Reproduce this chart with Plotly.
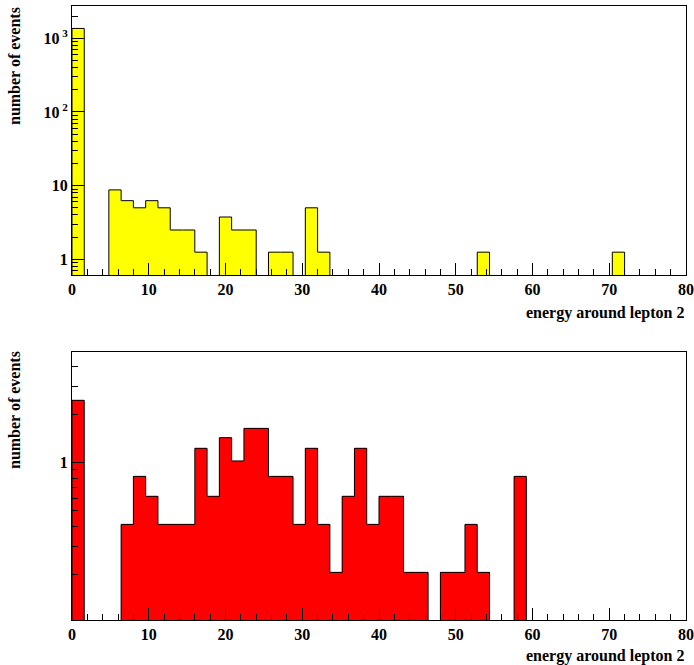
import plotly.graph_objects as go
from plotly.subplots import make_subplots
import math

# ---- data ----
n_bins = 50
x_min, x_max = 0.0, 80.0
bin_width = (x_max - x_min) / n_bins

top_counts = {0: 1360, 3: 8.75, 4: 6.25, 5: 5, 6: 6.25, 7: 5, 8: 2.5, 9: 2.5,
              10: 1.25, 12: 3.75, 13: 2.5, 14: 2.5, 16: 1.25, 17: 1.25,
              19: 5, 20: 1.25, 33: 1.25, 44: 1.25}
bottom_counts = {0: 2.46, 4: 0.41, 5: 0.82, 6: 0.615, 7: 0.41, 8: 0.41, 9: 0.41,
                 10: 1.23, 11: 0.615, 12: 1.435, 13: 1.025, 14: 1.64, 15: 1.64,
                 16: 0.82, 17: 0.82, 18: 0.41, 19: 1.23, 20: 0.41, 21: 0.205,
                 22: 0.615, 23: 1.23, 24: 0.41, 25: 0.615, 26: 0.615, 27: 0.205,
                 28: 0.205, 30: 0.205, 31: 0.205, 32: 0.41, 33: 0.205, 36: 0.82}

top_values = [top_counts.get(i, 0) for i in range(n_bins)]
bottom_values = [bottom_counts.get(i, 0) for i in range(n_bins)]

x_ticks = list(range(0, 81, 10))
top_ytick_vals = [1, 10, 100, 1000]
top_ytick_text = ["1", "10", "10<sup> 2</sup>", "10<sup> 3</sup>"]
bottom_ytick_vals = [1]
bottom_ytick_text = ["1"]

top_yrange = [-0.213, 3.438]
bottom_yrange = [-0.987, 0.694]

x_title = "energy around lepton 2"
y_title = "number of events"

# ---- helpers ----
edges = [x_min + i * bin_width for i in range(n_bins + 1)]
centers = [x_min + (i + 0.5) * bin_width for i in range(n_bins)]


def step_outline(values, floor):
    xs = [edges[0]] + edges[:-1] + [edges[-1]]
    ys = [floor] + [v if v > 0 else floor for v in values] + [floor]
    return xs, ys


def minor_log_vals(lo, hi):
    vals = []
    for k in range(int(math.floor(lo)) - 1, int(math.ceil(hi)) + 1):
        for d in range(2, 10):
            v = d * 10 ** k
            if lo <= math.log10(v) <= hi:
                vals.append(v)
    return vals


H = 665
fig = make_subplots(rows=2, cols=1)

font_family = "Liberation Serif, Times New Roman, serif"
tick_font = dict(family=font_family, size=16, color="black", weight="bold")

panels = [
    (1, top_values, "#ffff00", top_yrange, top_ytick_vals, top_ytick_text),
    (2, bottom_values, "#ff0000", bottom_yrange, bottom_ytick_vals, bottom_ytick_text),
]

for row, vals, color, yr, tv, tt in panels:
    fig.add_trace(go.Bar(x=centers, y=[v if v > 0 else None for v in vals],
                         width=bin_width, marker=dict(color=color, line=dict(width=0)),
                         showlegend=False, hoverinfo="skip"), row=row, col=1)
    floor = 10 ** (yr[0] - 0.5)
    sx, sy = step_outline(vals, floor)
    fig.add_trace(go.Scatter(x=sx, y=sy, mode="lines", line=dict(color="black", width=1, shape="hv"),
                             showlegend=False, hoverinfo="skip"), row=row, col=1)
    fig.update_xaxes(range=[x_min, x_max], tickmode="array", tickvals=x_ticks,
                     ticks="inside", ticklen=12, tickwidth=1, tickcolor="black",
                     minor=dict(ticks="inside", ticklen=6, tickwidth=1, tickcolor="black",
                                tickmode="linear", tick0=0, dtick=2),
                     showline=True, linecolor="black", linewidth=1, mirror=True,
                     showgrid=False, zeroline=False, tickfont=tick_font,
                     row=row, col=1)
    fig.update_yaxes(type="log", range=yr, tickmode="array", tickvals=tv, ticktext=tt,
                     ticks="inside", ticklen=12, tickwidth=1, tickcolor="black",
                     minor=dict(ticks="inside", ticklen=6, tickwidth=1, tickcolor="black",
                                tickmode="array", tickvals=minor_log_vals(yr[0], yr[1])),
                     showline=True, linecolor="black", linewidth=1, mirror=True,
                     showgrid=False, zeroline=False, tickfont=tick_font,
                     row=row, col=1)

# domains in pixels
fig.update_layout(
    xaxis=dict(domain=[0, 1]),
    xaxis2=dict(domain=[0, 1]),
    yaxis=dict(domain=[(H - 275) / H, (H - 6) / H]),
    yaxis2=dict(domain=[(H - 620) / H, (H - 352) / H]),
)

title_font = dict(family=font_family, size=16, color="black", weight="bold")
annotations = []
for ypix in (313, 656):
    annotations.append(dict(text=x_title, xref="paper", yref="paper",
                            x=1.0, y=(H - ypix) / H, xanchor="right", yanchor="middle",
                            showarrow=False, font=title_font))
for ypix in (66, 410):
    annotations.append(dict(text=y_title, xref="paper", yref="paper",
                            x=(14 - 72) / 614, y=(H - ypix) / H, xanchor="center", yanchor="middle",
                            textangle=-90, showarrow=False, font=title_font))

fig.update_layout(
    width=694, height=665,
    margin=dict(l=72, r=8, t=0, b=0),
    paper_bgcolor="white", plot_bgcolor="white",
    bargap=0, barmode="overlay",
    font=dict(family=font_family, size=16, color="black"),
    annotations=annotations,
)

fig.write_html("out.html", config={"displayModeBar": False},
               post_script="document.body.style.margin='0';document.body.style.overflow='hidden';")
